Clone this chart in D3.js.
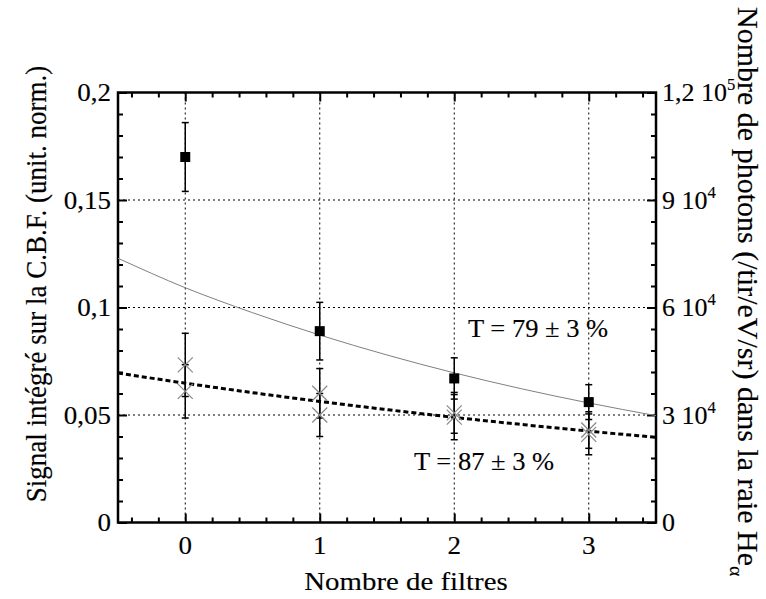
<!DOCTYPE html>
<html>
<head>
<meta charset="utf-8">
<script src="https://cdn.jsdelivr.net/npm/d3@7/dist/d3.min.js"></script>
<style>
  html, body { margin: 0; padding: 0; background: #fff; }
  svg { display: block; }
  text { font-family: "Liberation Serif", "Times New Roman", serif; fill: #000; stroke: #000; stroke-width: 0.15px; }
</style>
</head>
<body>
<svg id="chart" width="766" height="599"></svg>
<script>
// ---- data ----
const filtres = [0, 1, 2, 3];
const signalCarres = [0.170, 0.089, 0.067, 0.056];
const errCarres = [0.016, 0.0134, 0.0096, 0.0081];
const signalCroix1 = [0.0733, 0.0601, 0.051, 0.043];
const errCroix1 = [0.0147, 0.0115, 0.0095, 0.0085];
const signalCroix2 = [0.0610, 0.050, 0.049, 0.041];
const errCroix2 = [0.0124, 0.010, 0.0105, 0.0095];
const ajustX = [-0.5, 0, 0.5, 1, 1.5, 2, 2.5, 3, 3.5];
const ajust79 = [0.1229, 0.1092, 0.0976, 0.0872, 0.0779, 0.0696, 0.0622, 0.0556, 0.0497];
const ajust87 = [0.0695, 0.0648, 0.0604, 0.0563, 0.0525, 0.0489, 0.0456, 0.0425, 0.0396];
const xTicks = [0, 1, 2, 3];
const yTicks = [0, 0.05, 0.1, 0.15, 0.2];
const yTickLabels = ["0", "0,05", "0,1", "0,15", "0,2"];
const yrTicks = [0, 30000, 60000, 90000, 120000];
const yrMant = ["0", "3", "6", "9", "1,2"];
const yrExp = ["", "4", "4", "4", "5"];
const annotations = ["T = 79 ± 3 %", "T = 87 ± 3 %"];

// ---- layout ----
const L = 118, R = 656, T = 92.5, B = 522.5;

const svg = d3.select("#chart");
const x = d3.scaleLinear().domain([-0.5, 3.5]).range([L, R]);
const y = d3.scaleLinear().domain([0, 0.2]).range([B, T]);
const yr = d3.scaleLinear().domain([0, 120000]).range([B, T]);

// grid
const grid = svg.append("g").attr("stroke", "#000").attr("stroke-width", 1).attr("stroke-dasharray", "2,3");
grid.selectAll(".gx").data(xTicks).join("line")
  .attr("x1", d => x(d)).attr("x2", d => x(d)).attr("y1", T).attr("y2", B);
grid.selectAll(".gy").data(yTicks.filter(d => d > 0 && d < 0.2)).join("line")
  .attr("x1", L).attr("x2", R).attr("y1", d => y(d)).attr("y2", d => y(d));

// axes (inward ticks)
function styleAxis(g) {
  g.select(".domain").remove();
  g.selectAll("text").remove();
  g.selectAll("line").attr("stroke", "#000").attr("stroke-width", 2);
}
const minorX = d3.range(-0.4, 3.45, 0.2).map(v => +v.toFixed(2)).filter(v => Math.abs(v - Math.round(v)) > 0.01);
const minorY = d3.range(0.01, 0.2, 0.01).map(v => +v.toFixed(2)).filter(v => Math.abs(v * 20 - Math.round(v * 20)) > 0.01);
svg.append("g").attr("transform", `translate(0,${B})`).call(d3.axisBottom(x).tickValues(xTicks).tickSize(-9)).call(styleAxis);
svg.append("g").attr("transform", `translate(0,${B})`).call(d3.axisBottom(x).tickValues(minorX).tickSize(-5)).call(styleAxis);
svg.append("g").attr("transform", `translate(0,${T})`).call(d3.axisTop(x).tickValues(xTicks).tickSize(-9)).call(styleAxis);
svg.append("g").attr("transform", `translate(0,${T})`).call(d3.axisTop(x).tickValues(minorX).tickSize(-5)).call(styleAxis);
svg.append("g").attr("transform", `translate(${L},0)`).call(d3.axisLeft(y).tickValues(yTicks).tickSize(-9)).call(styleAxis);
svg.append("g").attr("transform", `translate(${L},0)`).call(d3.axisLeft(y).tickValues(minorY).tickSize(-5)).call(styleAxis);
svg.append("g").attr("transform", `translate(${R},0)`).call(d3.axisRight(yr).tickValues(yrTicks).tickSize(-9)).call(styleAxis);
svg.append("g").attr("transform", `translate(${R},0)`).call(d3.axisRight(y).tickValues(minorY).tickSize(-5)).call(styleAxis);
svg.append("rect").attr("x", L).attr("y", T).attr("width", R - L).attr("height", B - T)
  .attr("fill", "none").attr("stroke", "#000").attr("stroke-width", 2.5);

// fit curves
const line = d3.line().x((d, i) => x(ajustX[i])).y(d => y(d)).curve(d3.curveMonotoneX);
svg.append("path").attr("d", line(ajust79)).attr("fill", "none").attr("stroke", "#808080").attr("stroke-width", 1);
svg.append("path").attr("d", line(ajust87)).attr("fill", "none").attr("stroke", "#000").attr("stroke-width", 3).attr("stroke-dasharray", "5,3");

// error bars
function errBars(vals, errs, cap) {
  const g = svg.append("g").attr("stroke", "#000").attr("stroke-width", 1.5);
  filtres.forEach((f, i) => {
    const cx = x(f), y0 = y(vals[i] - errs[i]), y1 = y(vals[i] + errs[i]);
    g.append("line").attr("x1", cx).attr("x2", cx).attr("y1", y0).attr("y2", y1);
    g.append("line").attr("x1", cx - cap).attr("x2", cx + cap).attr("y1", y0).attr("y2", y0);
    g.append("line").attr("x1", cx - cap).attr("x2", cx + cap).attr("y1", y1).attr("y2", y1);
  });
}
errBars(signalCroix1, errCroix1, 3.5);
errBars(signalCroix2, errCroix2, 3.5);
errBars(signalCarres, errCarres, 3.5);

// crosses
function crosses(vals) {
  const g = svg.append("g").attr("stroke", "#8a8a8a").attr("stroke-width", 1.3);
  filtres.forEach((f, i) => {
    const cx = x(f), cy = y(vals[i]), s = 7.5;
    g.append("line").attr("x1", cx - s).attr("x2", cx + s).attr("y1", cy - s).attr("y2", cy + s);
    g.append("line").attr("x1", cx - s).attr("x2", cx + s).attr("y1", cy + s).attr("y2", cy - s);
  });
}
crosses(signalCroix1);
crosses(signalCroix2);

// squares
svg.append("g").selectAll("rect").data(signalCarres).join("rect")
  .attr("x", (d, i) => x(filtres[i]) - 5).attr("y", d => y(d) - 5)
  .attr("width", 10).attr("height", 10).attr("fill", "#000");

// text helper (stretched horizontally)
function txt(str, tx, ty, anchor, size, sx) {
  return svg.append("text").attr("transform", `translate(${tx},${ty}) scale(${sx},1)`)
    .attr("text-anchor", anchor || "start").attr("font-size", size).text(str);
}

// tick labels
xTicks.forEach(d => txt(String(d), x(d), 554, "middle", 25, 1.08));
yTicks.forEach((d, i) => txt(yTickLabels[i], 111, y(d) + 8.5, "end", 25, 1.08));
yrTicks.forEach((d, i) => {
  const t = svg.append("text").attr("transform", `translate(662,${yr(d) + 8.5}) scale(1.04,1)`).attr("font-size", 25);
  t.append("tspan").text(yrMant[i]);
  if (yrExp[i]) {
    t.append("tspan").text(" 10");
    t.append("tspan").attr("dy", -11).attr("font-size", 16).text(yrExp[i]);
  }
});

// annotations
txt(annotations[0], 468, 337, "start", 25, 1.06);
txt(annotations[1], 414, 470, "start", 25, 1.06);

// axis titles
txt("Nombre de filtres", 406, 590, "middle", 26, 1.11);
svg.append("text").attr("transform", `translate(46,284) scale(1.12,1) rotate(-90)`)
  .attr("text-anchor", "middle").attr("font-size", 27).text("Signal intégré sur la C.B.F. (unit. norm.)");
const rt = svg.append("text").attr("transform", `translate(738,7) scale(1,1.035) rotate(90)`)
  .attr("text-anchor", "start").attr("font-size", 29);
rt.append("tspan").text("Nombre de photons (/tir/eV/sr) dans la raie He");
rt.append("tspan").attr("dy", 8).attr("font-size", 19).text("α");
</script>
</body>
</html>
